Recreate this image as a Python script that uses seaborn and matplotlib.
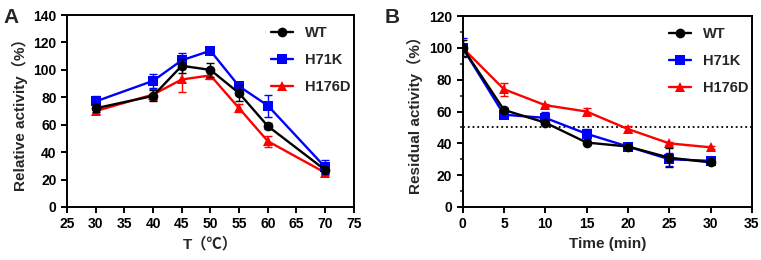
import numpy as np
import pandas as pd
import matplotlib
matplotlib.use("Agg")
import matplotlib.pyplot as plt
import seaborn as sns

sns.set_style("ticks")
plt.rcParams['font.family'] = ['Liberation Sans', 'Noto Sans CJK SC', 'DejaVu Sans']
plt.rcParams['font.weight'] = 'bold'
plt.rcParams['axes.labelweight'] = 'bold'

# --- data ---
strains = ['WT', 'H71K', 'H176D']
colors = ['black', 'blue', 'red']
markers = ['o', 's', '^']

temp = [30, 40, 45, 50, 55, 60, 70]
temp_wt = [72, 81, 103, 100, 83, 59, 27]
temp_h71k = [77, 92, 107, 114, 88, 74, 29]
temp_h176d = [70, 82, 93, 96, 72, 48, 25]
temp_wt_err = [3, 4, 5, 5, 6, 2, 2]
temp_h71k_err = [4, 5, 5, 2, 3, 8, 5]
temp_h176d_err = [2, 4, 9, 3, 3, 4, 2]

time = [0, 5, 10, 15, 20, 25, 30]
time_wt = [100, 61, 53, 40.5, 38, 31, 28]
time_h71k = [100, 58, 56, 46, 38, 30, 29]
time_h176d = [100, 74, 64, 60, 49, 40, 37.5]
time_wt_err = [5, 1, 1, 1, 1, 6, 1]
time_h71k_err = [6, 2, 4, 3, 1, 4, 1]
time_h176d_err = [1, 4, 1, 2, 2, 1, 1]


def long_df(x, series, errs):
    rows = []
    for name, ys, es in zip(strains, series, errs):
        for xi, yi, ei in zip(x, ys, es):
            rows.append({'x': xi, 'y': yi, 'err': ei, 'strain': name})
    return pd.DataFrame(rows)


df_a = long_df(temp, [temp_wt, temp_h71k, temp_h176d],
               [temp_wt_err, temp_h71k_err, temp_h176d_err])
df_b = long_df(time, [time_wt, time_h71k, time_h176d],
               [time_wt_err, time_h71k_err, time_h176d_err])

fig = plt.figure(figsize=(7.61, 2.6), dpi=100)
ax_a = fig.add_axes([0.088, 0.204, 0.377, 0.738])
ax_b = fig.add_axes([0.608, 0.204, 0.380, 0.734])

palette = dict(zip(strains, colors))
mk = dict(zip(strains, markers))
# WT sits on top of the others
layer = {'black': 6, 'blue': 5, 'red': 4}


def draw(ax, df):
    for name in strains:
        d = df[df.strain == name]
        ax.errorbar(d.x, d.y, yerr=d.err, fmt='none', ecolor=palette[name],
                    elinewidth=1, capsize=3, capthick=1,
                    zorder=layer[palette[name]] - 0.5)
    sns.lineplot(data=df, x='x', y='y', hue='strain', style='strain',
                 palette=palette, markers=mk, dashes=False, markersize=7,
                 markeredgewidth=0, linewidth=1.7, ax=ax)
    for ln in ax.get_lines():
        c = matplotlib.colors.to_hex(ln.get_color())
        key = {'#000000': 'black', '#0000ff': 'blue', '#ff0000': 'red'}.get(c)
        if key:
            ln.set_zorder(layer[key])
    for sp in ax.spines.values():
        sp.set_linewidth(1.4)
        sp.set_color('black')
    ax.tick_params(width=1.4, length=4, labelsize=10, colors='black')
    for lab in ax.get_xticklabels() + ax.get_yticklabels():
        lab.set_fontweight('bold')
    leg = ax.legend(frameon=False, loc='upper right', fontsize=10.5,
                    handlelength=1.5, handletextpad=0.8, labelspacing=0.9,
                    borderaxespad=0.15, bbox_to_anchor=(1.015, 0.985))
    for t in leg.get_texts():
        t.set_fontweight('bold')


draw(ax_a, df_a)
ax_a.set_xlim(25, 75)
ax_a.set_ylim(0, 140)
ax_a.set_xticks(np.arange(25, 76, 5))
ax_a.set_yticks(np.arange(0, 141, 20))
ax_a.set_xlabel('T（℃）', fontsize=11, fontweight='bold')
ax_a.set_ylabel('Relative activity（%）', fontsize=11, fontweight='bold')

draw(ax_b, df_b)
ax_b.axhline(50, color='black', linestyle=':', linewidth=1.3, zorder=1)
ax_b.set_xlim(0, 35)
ax_b.set_ylim(0, 120)
ax_b.set_xticks(np.arange(0, 36, 5))
ax_b.set_yticks(np.arange(0, 121, 20))
ax_b.set_yticks(np.arange(10, 120, 20), minor=True)
ax_b.tick_params(axis='y', which='minor', width=1.2, length=2.5)
ax_b.set_xlabel('Time (min)', fontsize=11, fontweight='bold')
ax_b.set_ylabel('Residual activity（%）', fontsize=11, fontweight='bold')

fig.text(0.005, 0.97, 'A', fontsize=15, fontweight='bold', va='top')
fig.text(0.505, 0.97, 'B', fontsize=15, fontweight='bold', va='top')

fig.savefig('out.png', dpi=100)
